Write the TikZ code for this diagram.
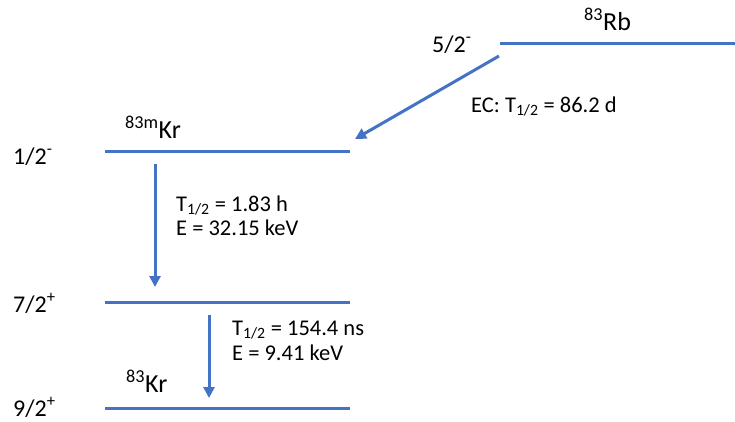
\documentclass[tikz,border=0pt]{standalone}
\usepackage{fontspec}
\setmainfont{Carlito}
\usetikzlibrary{arrows.meta}
\definecolor{lvlblue}{HTML}{4472C4}
\tikzset{
  level/.style={draw=lvlblue, line width=3pt},
  trans/.style={draw=lvlblue, line width=3pt, -{Triangle[width=11pt,length=11pt]}},
  txt/.style={anchor=base west, inner sep=0pt, font=\fontsize{22.5}{25}\selectfont},
  spin/.style={anchor=base west, inner sep=0pt, font=\fontsize{24}{28}\selectfont},
  iso/.style={anchor=base west, inner sep=0pt, font=\fontsize{26}{30}\selectfont},
}
\begin{document}
\begin{tikzpicture}[x=1pt,y=-1pt]
\useasboundingbox (0,0) rectangle (735,421);
% levels
\coordinate (rbL) at (500,43);  \coordinate (rbR) at (735,43);
\coordinate (kmL) at (105,151); \coordinate (kmR) at (350,151);
\coordinate (k7L) at (105,302); \coordinate (k7R) at (350,302);
\coordinate (k9L) at (105,408); \coordinate (k9R) at (350,408);
\draw[level] (rbL) -- (rbR);
\draw[level] (kmL) -- (kmR);
\draw[level] (k7L) -- (k7R);
\draw[level] (k9L) -- (k9R);
% labels
\node[iso] (rb) at (584,30) {\textsuperscript{83}Rb};
\node[spin] (s52) at (432,52) {5/2\textsuperscript{-}};
\node[iso] (kmlab) at (125,138) {\textsuperscript{83m}Kr};
\node[spin] (s12) at (13,164) {1/2\textsuperscript{-}};
\node[spin] (s72) at (13,312) {7/2\textsuperscript{+}};
\node[spin] (s92) at (13,416) {9/2\textsuperscript{+}};
\node[iso] (krlab) at (126,392) {\textsuperscript{83}Kr};
\node[txt] (ec) at (471,112) {EC: T\textsubscript{1/2} = 86.2 d};
\node[txt] (t1a) at (176,211) {T\textsubscript{1/2} = 1.83 h};
\node[txt] (t1b) at (176,235) {E = 32.15 keV};
\node[txt] (t2a) at (232,335) {T\textsubscript{1/2} = 154.4 ns};
\node[txt] (t2b) at (232,360) {E = 9.41 keV};
% transitions
\coordinate (ecA) at (499,56);  \coordinate (ecB) at (355,139);
\coordinate (g1A) at (155,164); \coordinate (g1B) at (155,287);
\coordinate (g2A) at (209,315); \coordinate (g2B) at (209,398);
\draw[trans] (ecA) -- (ecB);
\draw[trans] (g1A) -- (g1B);
\draw[trans] (g2A) -- (g2B);
\end{tikzpicture}
\end{document}
